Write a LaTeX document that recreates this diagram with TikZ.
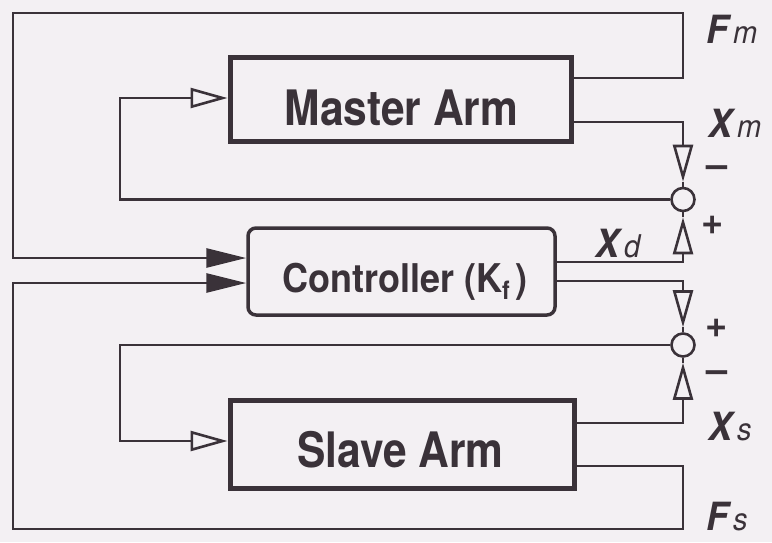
\documentclass[tikz,border=0pt]{standalone}
\usepackage{fontspec}
\setmainfont{TeX Gyre Heros}
\usetikzlibrary{arrows.meta,calc}
\definecolor{bgc}{HTML}{F3F0F3}
\definecolor{ink}{HTML}{3A3239}
\newcommand{\lab}[2]{\scalebox{1}[1.08]{\fontsize{36}{36}\selectfont\bfseries\itshape #1\hspace{5pt}\fontseries{m}\fontsize{29}{29}\selectfont #2}}
\begin{document}
\begin{tikzpicture}[x=1pt,y=-1pt,
 conn/.style={draw=ink, line width=2.8pt},
 oarr/.style={-{Triangle[open,length=37pt,width=20pt,line width=2.6pt]}},
 farr/.style={-{Triangle[length=40pt,width=19pt]}},
 armbox/.style={draw=ink, line width=5pt, inner sep=0pt},
 ctrlbox/.style={draw=ink, line width=3.5pt, rounded corners=8pt, inner sep=0pt},
 sumc/.style={circle, draw=ink, line width=2.6pt, minimum size=23pt, inner sep=0pt},
 big/.style={text=ink, inner sep=0pt, anchor=base, font=\fontsize{42.5}{42.5}\selectfont\bfseries},
 lbl/.style={text=ink, inner sep=0pt, anchor=base west},
 sgn/.style={text=ink, inner sep=0pt, font=\fontsize{38}{38}\selectfont\bfseries},
]
\fill[bgc] (0,0) rectangle (772,542);
\useasboundingbox (0,0) rectangle (772,542);

% boxes
\node[armbox, minimum width=341pt, minimum height=84pt] (master) at (400.5,99.5) {};
\node[armbox, minimum width=344pt, minimum height=88pt] (slave) at (402,444) {};
\node[ctrlbox, minimum width=307pt, minimum height=87pt] (ctrl) at (401.5,271.5) {};
\node[sumc] (c1) at (683,199.5) {};
\node[sumc] (c2) at (683,345) {};

% box texts
\node[big] (mtext) at (401.5,125) {\scalebox{1}[1.15]{Master Arm}};
\node[big] (stext) at (400.5,467) {\scalebox{1}[1.15]{Slave Arm}};
\node[big, font=\fontsize{36}{36}\selectfont\bfseries] (ctext) at (405,292)
  {\scalebox{1}[1.1]{Controller (K\raisebox{-7pt}{\fontsize{23}{23}\selectfont f}\hspace{6pt})}};

% level coordinates
\coordinate (yfm) at (0,78);
\coordinate (yxm) at (0,122);
\coordinate (yxd) at (0,262);
\coordinate (yc2) at (0,281);
\coordinate (ytop) at (0,98);
\coordinate (ybot) at (0,441);
\coordinate (yxs) at (0,423);
\coordinate (yfs) at (0,466);
\coordinate (yk1) at (0,258);
\coordinate (yk2) at (0,283);
\coordinate (a1) at ($(c1.north)+(0,-5)$);
\coordinate (a2) at ($(c1.south)+(0,5)$);
\coordinate (a3) at ($(c2.north)+(0,-5)$);
\coordinate (a4) at ($(c2.south)+(0,5)$);

% Fm loop
\draw[conn, farr] (master.east |- yfm) -- (683,78) -- (683,13) -- (13,13) -- (13,258) -- (ctrl.west |- yk1);
% Fs loop
\draw[conn, farr] (slave.east |- yfs) -- (683,466) -- (683,529) -- (13,529) -- (13,283) -- (ctrl.west |- yk2);
% Xm
\draw[conn, oarr] (master.east |- yxm) -| (a1);
\draw[conn] (a1) -- (c1.north);
% Xd
\draw[conn, oarr] (ctrl.east |- yxd) -| (a2);
\draw[conn] (a2) -- (c1.south);
% controller to c2
\draw[conn, oarr] (ctrl.east |- yc2) -| (a3);
\draw[conn] (a3) -- (c2.north);
% Xs
\draw[conn, oarr] (slave.east |- yxs) -| (a4);
\draw[conn] (a4) -- (c2.south);
% error loops
\draw[conn, oarr] (c1.west) -- (120,199.5) -- (120,98) -- (master.west |- ytop);
\draw[conn, oarr] (c2.west) -- (120,345) -- (120,441) -- (slave.west |- ybot);

% labels
\node[lbl] (fm) at (706,43) {\lab{F}{m}};
\node[lbl] (xm) at (708,137) {\lab{X}{m}};
\node[lbl] (xd) at (595,257) {\lab{X}{d}};
\node[lbl] (xs) at (708,440) {\lab{X}{s}};
\node[lbl] (fs) at (706,530) {\lab{F}{s}};

% signs
\node[sgn] (m1) at (717,172) {–};
\node[sgn] (p1) at (713,225) {+};
\node[sgn] (p2) at (717,328) {+};
\node[sgn] (m2) at (717,377) {–};
\end{tikzpicture}
\end{document}
